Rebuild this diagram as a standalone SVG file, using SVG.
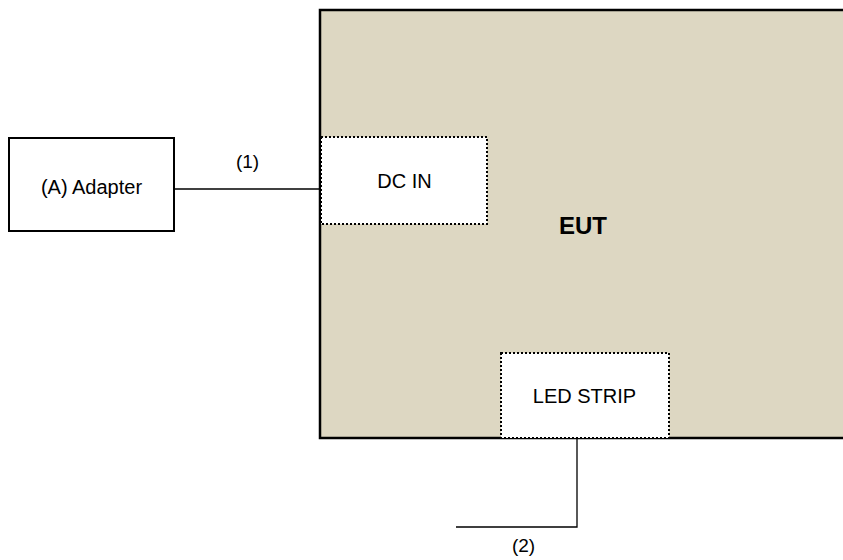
<svg xmlns="http://www.w3.org/2000/svg" width="843" height="560" viewBox="0 0 843 560">
<style>
text{font-family:"Liberation Sans",Arial,sans-serif;font-size:20px;fill:#000;text-anchor:middle;}
.dot{fill:#fff;stroke:#000;stroke-width:2;stroke-dasharray:2 2;}
.wire{fill:none;stroke:#000;stroke-width:1.3;}
</style>
<rect x="0" y="0" width="843" height="560" fill="#fff"/>
<g id="eut">
<rect x="320" y="10" width="530" height="428" fill="#DDD7C2" stroke="#000" stroke-width="2.5"/>
<text x="583" y="234" style="font-size:24px;font-weight:bold">EUT</text>
</g>
<g id="dcin">
<rect class="dot" x="321" y="137" width="166" height="87"/>
<text x="404.5" y="188">DC IN</text>
</g>
<g id="ledstrip">
<rect class="dot" x="501" y="353" width="168" height="85"/>
<text x="584.5" y="403">LED STRIP</text>
</g>
<g id="adapter">
<rect x="9" y="138" width="165" height="93" fill="#fff" stroke="#000" stroke-width="2"/>
<text x="91.5" y="194">(A) Adapter</text>
</g>
<g id="connectors">
<line class="wire" x1="175" y1="189" x2="320" y2="189"/>
<text x="247.5" y="168" style="font-size:19px">(1)</text>
<polyline class="wire" points="577,439 577,527 456,527"/>
<text x="523.5" y="552" style="font-size:19px">(2)</text>
</g>
</svg>
